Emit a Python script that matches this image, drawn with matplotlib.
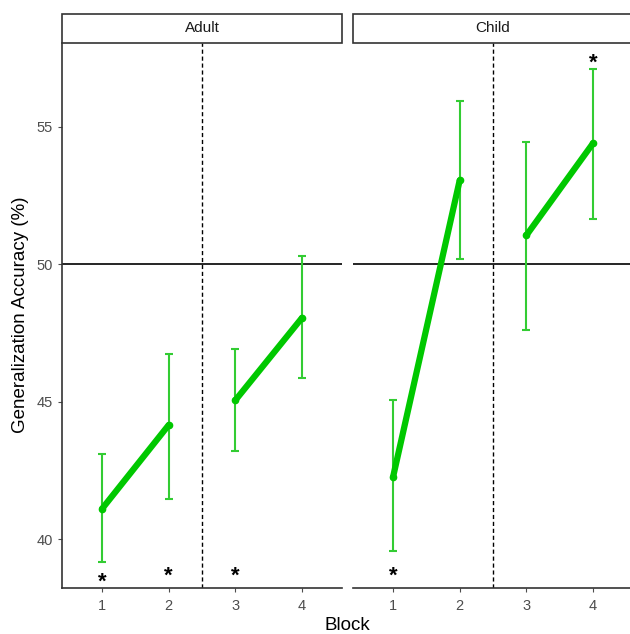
import matplotlib
matplotlib.use('Agg')
import matplotlib.pyplot as plt
from matplotlib.patches import Rectangle

plt.rcParams['font.family'] = ['Liberation Sans', 'DejaVu Sans']

groups = ['Adult', 'Child']
blocks = [1, 2, 3, 4]

adult_mean = [41.1, 44.15, 45.05, 48.05]
adult_lo = [39.15, 41.45, 43.2, 45.85]
adult_hi = [43.1, 46.75, 46.9, 50.3]

child_mean = [42.25, 53.05, 51.05, 54.4]
child_lo = [39.55, 50.2, 47.6, 51.65]
child_hi = [45.05, 55.95, 54.45, 57.1]

# blocks marked as significantly different from chance, and where the star sits
adult_stars = [(1, 38.52), (2, 38.75), (3, 38.75)]
child_stars = [(1, 38.75), (4, 57.42)]

data = {
    'Adult': (adult_mean, adult_lo, adult_hi, adult_stars),
    'Child': (child_mean, child_lo, child_hi, child_stars),
}

green = '#00c800'
err_green = '#33cc33'
tick_grey = '#4d4d4d'

fig = plt.figure(figsize=(6.3, 6.34), dpi=100)
W, H = 630, 634
panel_left = [62, 353]
panel_w = 280
bottom, top = 588, 43
strip_top = 14

axes = []
for i, g in enumerate(groups):
    ax = fig.add_axes([panel_left[i] / W, 1 - bottom / H,
                       panel_w / W, (bottom - top) / H])
    axes.append(ax)
    mean, lo, hi, stars = data[g]

    ax.axhline(50, color='black', lw=1.2, zorder=1)
    ax.axvline(2.5, color='black', lw=1.0, ls=(0, (3, 2)), zorder=1)

    yerr = [[m - l for m, l in zip(mean, lo)], [h - m for m, h in zip(mean, hi)]]
    ax.errorbar(blocks, mean, yerr=yerr, fmt='none', ecolor=err_green,
                elinewidth=1.5, capsize=3, capthick=1.5, zorder=2)
    # two separate segments: blocks 1-2 and 3-4
    for seg in [(0, 2), (2, 4)]:
        ax.plot(blocks[seg[0]:seg[1]], mean[seg[0]:seg[1]], color=green,
                lw=4.5, solid_capstyle='round', zorder=3)
        ax.plot(blocks[seg[0]:seg[1]], mean[seg[0]:seg[1]], 'o', color=green,
                ms=4.5, zorder=3)

    for bx, by in stars:
        ax.text(bx, by, '*', ha='center', va='center_baseline', fontsize=16,
                fontweight='bold', color='black')

    ax.set_xlim(0.4, 4.6)
    ax.set_ylim(38.22, 58.05)
    ax.set_xticks(blocks)
    ax.set_yticks([40, 45, 50, 55])
    ax.tick_params(colors=tick_grey, labelsize=10.5, length=3, width=0.8,
                   labelcolor=tick_grey)
    ax.tick_params(axis='x', pad=5)
    for s in ['top', 'right']:
        ax.spines[s].set_visible(False)
    ax.spines['left'].set_color('#333333')
    ax.spines['bottom'].set_color('#333333')
    ax.spines['left'].set_linewidth(1.2)
    ax.spines['bottom'].set_linewidth(1.2)
    if i == 1:
        ax.spines['left'].set_visible(False)
        ax.tick_params(axis='y', left=False, labelleft=False)

    # facet strip
    strip = Rectangle((panel_left[i] / W, 1 - top / H), panel_w / W,
                      (top - strip_top) / H, transform=fig.transFigure,
                      facecolor='white', edgecolor='#333333', lw=1.2)
    fig.add_artist(strip)
    fig.text((panel_left[i] + panel_w / 2) / W, 1 - (top + strip_top) / 2 / H,
             g, ha='center', va='center', fontsize=11, color='#1a1a1a')

fig.text(21 / W, 1 - 315 / H, 'Generalization Accuracy (%)', rotation=90,
         ha='center', va='center', fontsize=13.5)
fig.text(347 / W, 1 - 625 / H, 'Block', ha='center', va='center',
         fontsize=13.5)

fig.savefig('out.png', dpi=100)
